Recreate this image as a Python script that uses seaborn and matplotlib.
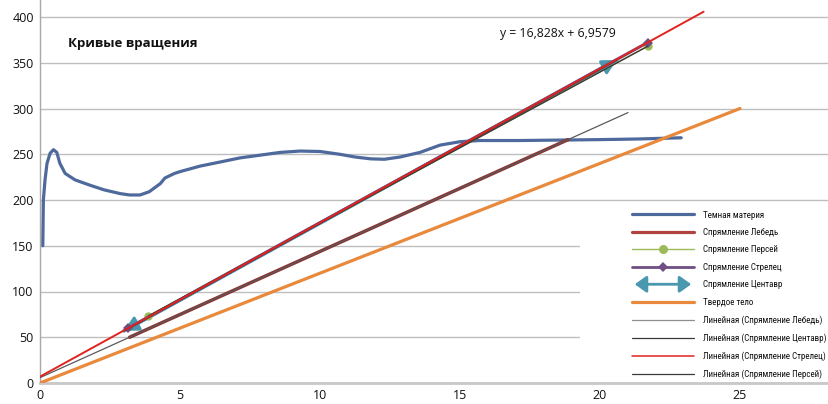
import numpy as np
import pandas as pd
import seaborn as sns
import matplotlib
matplotlib.use("Agg")
import matplotlib.pyplot as plt
from matplotlib import font_manager
from matplotlib.lines import Line2D
from matplotlib.patches import FancyArrowPatch, Rectangle
from matplotlib.legend_handler import HandlerBase

# ---------------- data ----------------
DM_X = [0.10, 0.12, 0.18, 0.25, 0.36, 0.48, 0.60, 0.71, 0.90, 1.25, 1.8, 2.3, 2.86, 3.2,
        3.57, 3.9, 4.3, 4.46, 4.8, 5.0, 5.71, 6.43, 7.14, 7.86, 8.57, 9.29, 10.0, 10.7,
        11.25, 11.8, 12.3, 12.86, 13.57, 14.29, 15.0, 15.7, 17.1, 18.6, 20.0, 21.4, 22.9]
DM_Y = [150, 200, 222, 240, 251, 255, 252, 240, 229, 222, 216, 211, 207, 205.5,
        205.5, 209, 218, 224, 229, 231, 237, 241.5, 246, 249, 252, 253.5, 253, 250,
        247, 245, 244.5, 247, 252, 260, 263.7, 265, 265, 265.5, 266, 266.7, 268]

LEBED_X = [3.2, 18.86]
LEBED_Y = [50, 266]
PERSEUS_X = [3.86, 21.7]
PERSEUS_Y = [73, 368]
STRELEC_X = [3.14, 21.7]
STRELEC_Y = [59.8, 372.1]
CENTAUR_X = [3.0, 20.6]
CENTAUR_Y = [57, 353]
SOLID_X = [0, 25]
SOLID_Y = [0, 300]

LEBED_TREND_RANGE = [0, 21]
CENTAUR_TREND_RANGE = [3.0, 20.6]
STRELEC_TREND_RANGE = [0, 23.7]
PERSEUS_TREND_RANGE = [3.86, 21.7]

TITLE = "Кривые вращения"
EQUATION = "y = 16,828x + 6,9579"
LABELS = ["Темная материя", "Спрямление Лебедь", "Спрямление Персей",
          "Спрямление Стрелец", "Спрямление Центавр", "Твердое тело",
          "Линейная (Спрямление Лебедь)", "Линейная (Спрямление Центавр)",
          "Линейная (Спрямление Стрелец)", "Линейная (Спрямление Персей)"]
X_TICKS = [0, 5, 10, 15, 20, 25]
Y_TICKS = [0, 50, 100, 150, 200, 250, 300, 350, 400]

# ---------------- style ----------------
sns.set_style("white")
FONT = ["Open Sans", "DejaVu Sans"]
plt.rcParams["font.family"] = FONT

installed = {f.name for f in font_manager.fontManager.ttflist}
LEG_FAMILY = "Liberation Sans"
for cand in ["Roboto Condensed", "Liberation Sans Narrow", "DejaVu Sans Condensed",
             "Open Sans Condensed", "Liberation Sans", "Roboto"]:
    if cand in installed:
        LEG_FAMILY = cand
        break

C_DM = "#4E6A9C"
C_LEBED = "#8E3230"
C_PERSEUS = "#9BBB59"
C_STRELEC = "#6F4E83"
C_CENTAUR = "#4A98AE"
C_SOLID = "#E8893C"
C_T_LEBED = "#5A5A5A"
C_T_DARK = "#3A3A3A"
C_T_RED = "#E0231F"

W, H = 829, 404
fig = plt.figure(figsize=(W / 100, H / 100), dpi=100)
ax = fig.add_axes([40 / W, (H - 383) / H, (W - 40) / W, 383 / H])

def line(x, y, color, lw, z, **kw):
    sns.lineplot(x=x, y=y, ax=ax, color=color, lw=lw, sort=False,
                 estimator=None, legend=False, zorder=z, **kw)

line(DM_X, DM_Y, C_DM, 2.3, 3)
line(LEBED_X, LEBED_Y, C_LEBED, 2.5, 3)
line(CENTAUR_X, CENTAUR_Y, C_CENTAUR, 2.6, 3)
line(STRELEC_X, STRELEC_Y, C_STRELEC, 2.2, 3.1, marker="D", markersize=5,
     markeredgewidth=0)
line(PERSEUS_X, PERSEUS_Y, C_PERSEUS, 1.0, 3.05, marker="o", markersize=6,
     markeredgewidth=0)
line(SOLID_X, SOLID_Y, C_SOLID, 2.3, 3)

# arrow heads of the Центавр series
ax.annotate("", xy=(CENTAUR_X[0], CENTAUR_Y[0]), xytext=(CENTAUR_X[1], CENTAUR_Y[1]),
            arrowprops=dict(arrowstyle="<|-|>,head_length=0.85,head_width=0.45",
                            color=C_CENTAUR, lw=2.2, shrinkA=0, shrinkB=0),
            zorder=3)

# trendlines (least squares fits of each series)
def trend(xs, ys, rng, color, lw, z=4):
    k, b = np.polyfit(xs, ys, 1)
    tx = np.array(rng, dtype=float)
    line(tx, k * tx + b, color, lw, z)

trend(LEBED_X, LEBED_Y, LEBED_TREND_RANGE, C_T_LEBED, 0.9)
trend(CENTAUR_X, CENTAUR_Y, CENTAUR_TREND_RANGE, C_T_DARK, 1.1)
trend(PERSEUS_X, PERSEUS_Y, PERSEUS_TREND_RANGE, C_T_DARK, 1.0)
trend(STRELEC_X, STRELEC_Y, STRELEC_TREND_RANGE, C_T_RED, 1.4, 4.5)

# axes
ax.set_xlim(0, (W - 40) / 28)
ax.set_ylim(0, 383 / 0.915)
ax.set_xticks(X_TICKS)
ax.set_yticks(Y_TICKS)
ax.set_xticklabels([str(t) for t in X_TICKS])
ax.set_yticklabels([str(t) for t in Y_TICKS])
ax.yaxis.grid(True, color="#BEBEBE", lw=1.0)
ax.xaxis.grid(False)
ax.set_axisbelow(True)
for s in ["top", "right"]:
    ax.spines[s].set_visible(False)
ax.spines["left"].set_color("#A8A8A8")
ax.spines["left"].set_linewidth(1.0)
ax.spines["bottom"].set_color("#C8C8C8")
ax.spines["bottom"].set_linewidth(2.0)
ax.tick_params(axis="both", which="both", direction="out", length=3, width=0.8,
               color="#A8A8A8", labelsize=9, labelcolor="#111111", pad=1.5)
ax.patch.set_alpha(0)

ax.text(68 / W, 1 - 44 / H, TITLE, transform=fig.transFigure, fontsize=9.5,
        fontweight="bold", va="center", ha="left", color="#111111")
ax.text(500 / W, 1 - 33 / H, EQUATION, transform=fig.transFigure, fontsize=8.8,
        va="center", ha="left", color="#111111")

# white legend area
fig.patches.append(Rectangle((580 / W, (H - 382) / H), (W - 580) / W, (382 - 203) / H,
                             transform=fig.transFigure, facecolor="white",
                             edgecolor="none", zorder=2))

# ---- legend geometry (pixels of the reference) ----
HANDLE_X = 632
HANDLE_LEN = 62
TEXT_X = 703
TEXT_MAX_W = 124

fig.canvas.draw()
renderer = fig.canvas.get_renderer()
widths = []
for lab in LABELS:
    t = fig.text(0, 0, lab, fontsize=10, family=[LEG_FAMILY, "DejaVu Sans"])
    widths.append(t.get_window_extent(renderer).width)
    t.remove()
LEG_SIZE = min(7.5, 10 * TEXT_MAX_W / max(widths))
fs_px = LEG_SIZE * fig.dpi / 72


class HandlerDoubleArrow(HandlerBase):
    def create_artists(self, legend, orig_handle, xdescent, ydescent, width,
                       height, fontsize, trans):
        y = height / 2 - ydescent
        p = FancyArrowPatch((-xdescent + 2, y), (-xdescent + width - 2, y),
                            arrowstyle="<|-|>,head_length=0.7,head_width=0.5",
                            mutation_scale=10, color=C_CENTAUR, lw=2,
                            shrinkA=0, shrinkB=0, transform=trans)
        return [p]


arrow_handle = FancyArrowPatch((0, 0), (1, 1))
handles = [
    Line2D([], [], color=C_DM, lw=2.3),
    Line2D([], [], color="#B0433F", lw=2.3),
    Line2D([], [], color=C_PERSEUS, lw=1.0, marker="o", markersize=6.5, markeredgewidth=0),
    Line2D([], [], color=C_STRELEC, lw=2.0, marker="D", markersize=5.5, markeredgewidth=0),
    arrow_handle,
    Line2D([], [], color=C_SOLID, lw=2.3),
    Line2D([], [], color="#8F8F8F", lw=0.9),
    Line2D([], [], color=C_T_DARK, lw=0.9),
    Line2D([], [], color=C_T_RED, lw=1.1),
    Line2D([], [], color=C_T_DARK, lw=0.9),
]

BORDER = 0.3
ROW_PX = 17.7
FIRST_ROW_Y = 215
ls = 0.6
top = 207
leg = None
for _ in range(4):
    if leg is not None:
        leg.remove()
    leg = fig.legend(handles, LABELS, loc="upper left",
                     bbox_to_anchor=((HANDLE_X - BORDER * fs_px) / W, 1 - top / H),
                     bbox_transform=fig.transFigure,
                     frameon=False, prop={"family": [LEG_FAMILY, "DejaVu Sans"],
                                          "size": LEG_SIZE},
                     handlelength=HANDLE_LEN / fs_px,
                     handletextpad=(TEXT_X - HANDLE_X - HANDLE_LEN) / fs_px,
                     labelspacing=ls, borderpad=BORDER, borderaxespad=0,
                     handler_map={arrow_handle: HandlerDoubleArrow()})
    fig.canvas.draw()
    ys = [t.get_window_extent(renderer) for t in leg.get_texts()]
    c0 = H - (ys[0].y0 + ys[0].y1) / 2
    c9 = H - (ys[-1].y0 + ys[-1].y1) / 2
    spacing = (c9 - c0) / (len(LABELS) - 1)
    ls += (ROW_PX - spacing) / fs_px
    top += FIRST_ROW_Y - c0

for t in leg.get_texts():
    t.set_color("#111111")
leg.set_zorder(5)

fig.savefig("out.png", dpi=100)
